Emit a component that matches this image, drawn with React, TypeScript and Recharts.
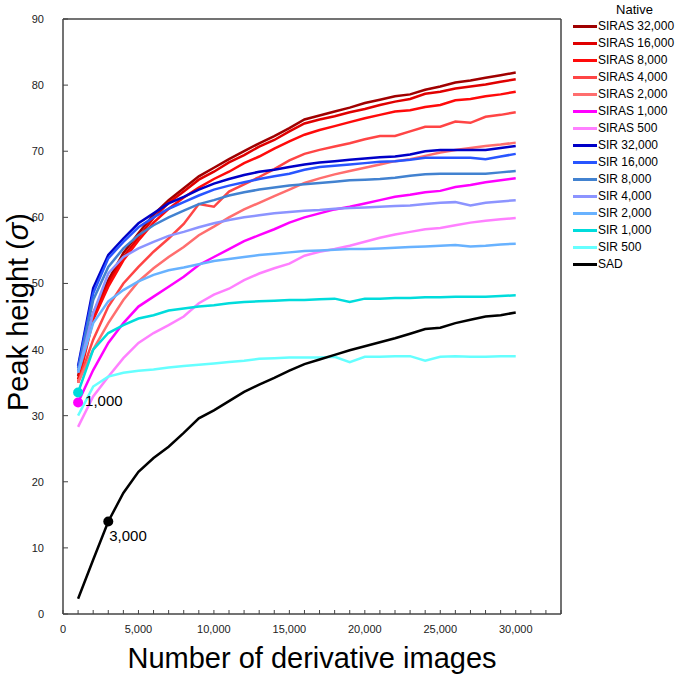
import { LineChart, Line, XAxis, YAxis, ReferenceLine } from "recharts";

const FONT = "Arial, 'Liberation Sans', sans-serif";
const AXIS = "#444";

const X = [
  1000, 2000, 3000, 4000, 5000, 6000, 7000, 8000, 9000, 10000,
  11000, 12000, 13000, 14000, 15000, 16000, 17000, 18000, 19000, 20000,
  21000, 22000, 23000, 24000, 25000, 26000, 27000, 28000, 29000, 30000,
];

const SIRAS_32000 = [36, 45.5, 50.5, 54.6, 57.6, 60.4, 62.6, 64.4, 66.2, 67.5, 68.8, 70, 71.2, 72.3, 73.5, 74.8, 75.4, 76, 76.6, 77.3, 77.8, 78.3, 78.6, 79.3, 79.8, 80.4, 80.7, 81.1, 81.5, 81.9];
const SIRAS_16000 = [35.5, 45, 50, 54, 57, 59.9, 62.2, 63.9, 65.7, 66.9, 68.3, 69.4, 70.7, 71.7, 73, 74.2, 74.8, 75.3, 75.9, 76.4, 77, 77.5, 77.9, 78.7, 79, 79.5, 79.8, 80.1, 80.5, 80.9];
const SIRAS_8000 = [35, 44.5, 49.5, 53.5, 56.5, 59.2, 61.3, 63, 64.5, 65.8, 66.9, 68.2, 69.2, 70.4, 71.5, 72.5, 73.2, 73.8, 74.4, 75, 75.5, 76, 76.2, 76.7, 77, 77.7, 77.9, 78.3, 78.6, 79];
const SIRAS_4000 = [35, 41.5, 46.5, 50, 52.5, 54.8, 56.8, 59, 62, 61.6, 63.9, 65, 66.1, 67.3, 68.6, 69.6, 70.2, 70.7, 71.2, 71.8, 72.3, 72.3, 73, 73.7, 73.7, 74.5, 74.3, 75.2, 75.5, 75.9];
const SIRAS_2000 = [35, 40, 44, 47.5, 50.3, 52.3, 54, 55.5, 57.3, 58.6, 60, 61.2, 62.2, 63.2, 64.2, 65.2, 65.9, 66.5, 67, 67.5, 68, 68.5, 68.8, 69.3, 69.8, 70.2, 70.5, 70.8, 71, 71.3];
const SIRAS_1000 = [32, 36.9, 41, 44, 46.5, 48, 49.5, 51, 52.8, 54, 55.2, 56.4, 57.3, 58.2, 59.2, 60, 60.6, 61.2, 61.6, 62.1, 62.6, 63.1, 63.4, 63.8, 64, 64.6, 64.9, 65.3, 65.6, 65.9];
const SIRAS_500 = [28.3, 32.9, 35.9, 38.7, 41, 42.5, 43.7, 45, 47, 48.3, 49.2, 50.5, 51.5, 52.3, 53, 54.2, 54.8, 55.2, 55.7, 56.3, 56.9, 57.4, 57.8, 58.2, 58.4, 58.8, 59.2, 59.5, 59.7, 59.9];
const SIR_32000 = [37.5, 49.3, 54.3, 56.8, 59.1, 60.6, 62.1, 63.1, 64.2, 65.1, 65.8, 66.4, 66.9, 67.2, 67.6, 68, 68.3, 68.5, 68.7, 68.9, 69.1, 69.2, 69.5, 70, 70.2, 70.2, 70.2, 70.2, 70.5, 70.8];
const SIR_16000 = [37.2, 48.5, 53.8, 56.3, 58.5, 60, 61.3, 62.3, 63.3, 64.2, 64.8, 65.3, 65.8, 66.2, 66.6, 67.2, 67.6, 67.8, 68, 68.2, 68.4, 68.5, 68.7, 69, 69, 69, 69, 68.8, 69.2, 69.6];
const SIR_8000 = [36.8, 47.5, 52.5, 55.3, 57.3, 58.8, 60, 61, 62, 62.6, 63.3, 63.8, 64.2, 64.5, 64.8, 65, 65.2, 65.4, 65.6, 65.7, 65.8, 66, 66.3, 66.5, 66.6, 66.6, 66.6, 66.6, 66.8, 67];
const SIR_4000 = [36.5, 45.5, 51.5, 54, 55.3, 56.3, 57.2, 57.8, 58.5, 59.1, 59.6, 60, 60.3, 60.6, 60.8, 61, 61.1, 61.3, 61.4, 61.5, 61.6, 61.7, 61.8, 62, 62.2, 62.3, 61.8, 62.2, 62.4, 62.6];
const SIR_2000 = [36.5, 44, 47.3, 49, 50.3, 51.3, 52, 52.4, 52.9, 53.4, 53.7, 54, 54.3, 54.5, 54.7, 54.9, 55, 55.1, 55.2, 55.2, 55.3, 55.4, 55.5, 55.6, 55.7, 55.8, 55.6, 55.7, 55.9, 56];
const SIR_1000 = [33.5, 40, 42.5, 43.7, 44.7, 45.2, 45.9, 46.2, 46.5, 46.7, 47, 47.2, 47.3, 47.4, 47.5, 47.5, 47.6, 47.7, 47.2, 47.7, 47.7, 47.8, 47.8, 47.9, 47.9, 48, 48, 48, 48.1, 48.2];
const SIR_500 = [30, 34.4, 35.9, 36.5, 36.8, 37, 37.3, 37.5, 37.7, 37.9, 38.1, 38.3, 38.6, 38.7, 38.8, 38.8, 38.8, 38.9, 38.1, 38.9, 38.9, 39, 39, 38.3, 38.9, 39, 38.9, 38.9, 39, 39];
const SAD = [2.3, 8.2, 14, 18.3, 21.5, 23.6, 25.3, 27.4, 29.6, 30.8, 32.2, 33.6, 34.7, 35.7, 36.8, 37.8, 38.5, 39.2, 39.9, 40.5, 41.1, 41.7, 42.4, 43.1, 43.3, 44, 44.5, 45, 45.2, 45.6];

const X_TICK_LABELS = ["0", "5,000", "10,000", "15,000", "20,000", "25,000", "30,000"];
const Y_TICKS = [0, 10, 20, 30, 40, 50, 60, 70, 80, 90];

// name, values, colour, marked point index, marker label
const SERIES: [string, number[], string, number, string][] = [
  ["SIRAS 32,000", SIRAS_32000, "#a00000", -1, ""],
  ["SIRAS 16,000", SIRAS_16000, "#e00000", -1, ""],
  ["SIRAS 8,000", SIRAS_8000, "#ff0a0a", -1, ""],
  ["SIRAS 4,000", SIRAS_4000, "#ff4545", -1, ""],
  ["SIRAS 2,000", SIRAS_2000, "#ff6e6e", -1, ""],
  ["SIRAS 1,000", SIRAS_1000, "#ff00ff", 0, "1,000"],
  ["SIRAS 500", SIRAS_500, "#ff80ff", -1, ""],
  ["SIR 32,000", SIR_32000, "#0000c8", -1, ""],
  ["SIR 16,000", SIR_16000, "#2855ff", -1, ""],
  ["SIR 8,000", SIR_8000, "#4282d0", -1, ""],
  ["SIR 4,000", SIR_4000, "#8c94ff", -1, ""],
  ["SIR 2,000", SIR_2000, "#68b2ff", -1, ""],
  ["SIR 1,000", SIR_1000, "#00dcdc", 0, ""],
  ["SIR 500", SIR_500, "#66ffff", -1, ""],
  ["SAD", SAD, "#000000", 2, "3,000"],
];

const data = X.map((x, i) => {
  const row: Record<string, number> = { x };
  SERIES.forEach(([name, vals]) => (row[name] = vals[i]));
  return row;
});

const xTicks = Array.from({ length: 34 }, (_, i) => i * 1000);

function XTick(props: any) {
  const { x, y, payload } = props;
  const v = payload.value;
  const label = v % 5000 === 0 ? X_TICK_LABELS[v / 5000] : null;
  return (
    <g>
      <line x1={x} x2={x} y1={y - 4} y2={y} stroke={AXIS} strokeWidth={1} />
      {label && (
        <text x={x} y={y + 19} textAnchor="middle" fontSize={11} fontFamily={FONT} fill="#222">
          {label}
        </text>
      )}
    </g>
  );
}

function YTick(props: any) {
  const { x, y, payload } = props;
  return (
    <g>
      <line x1={x} x2={x + 5} y1={y} y2={y} stroke={AXIS} strokeWidth={1} />
      <text x={x - 19} y={y + 4} textAnchor="end" fontSize={11} fontFamily={FONT} fill="#222">
        {payload.value}
      </text>
    </g>
  );
}

function makeDot(color: string, mark: number, label: string) {
  return (p: any) => {
    if (p.index !== mark) return <g key={`d${p.index}`} />;
    return (
      <g key={`d${p.index}`}>
        <circle cx={p.cx} cy={p.cy} r={5} fill={color} stroke="none" />
        {label === "1,000" && (
          <text x={p.cx + 7} y={p.cy + 4} fontSize={15} fontFamily={FONT} fill="#000">
            {label}
          </text>
        )}
        {label === "3,000" && (
          <text x={p.cx + 1} y={p.cy + 20} fontSize={15} fontFamily={FONT} fill="#000">
            {label}
          </text>
        )}
      </g>
    );
  };
}

function LegendBox() {
  return (
    <div style={{ position: "absolute", top: 0.5, left: 566, width: 109, fontFamily: FONT }}>
      <div style={{ height: 17, lineHeight: "17px", fontSize: 13, textAlign: "center", paddingLeft: 28, color: "#000" }}>
        Native
      </div>
      {SERIES.map(([name, , color]) => (
        <div key={name} style={{ height: 17, display: "flex", alignItems: "center" }}>
          <div style={{ width: 24, height: 3, background: color, marginLeft: 7, marginRight: 1 }} />
          <span style={{ fontSize: 12, color: "#000", whiteSpace: "nowrap" }}>{name}</span>
        </div>
      ))}
    </div>
  );
}

export default function App() {
  return (
    <div style={{ position: "absolute", left: 0, top: 0, width: 675, height: 681, background: "#fff" }}>
      <LineChart width={675} height={681} data={data} margin={{ top: 19, right: 114, bottom: 0, left: 0 }}>
        <XAxis
          dataKey="x"
          type="number"
          domain={[0, 33000]}
          ticks={xTicks}
          interval={0}
          height={67}
          tickSize={0}
          tickMargin={0}
          tickLine={false}
          tick={<XTick />}
          stroke={AXIS}
          strokeWidth={1.5}
        />
        <YAxis
          type="number"
          domain={[0, 90]}
          ticks={Y_TICKS}
          interval={0}
          width={63}
          tickSize={0}
          tickMargin={0}
          tickLine={false}
          tick={<YTick />}
          stroke={AXIS}
          strokeWidth={1.5}
        />
        <ReferenceLine y={90} stroke={AXIS} strokeWidth={1.5} />
        <ReferenceLine x={33000} stroke={AXIS} strokeWidth={1.5} />
        {SERIES.map(([name, , color, mark, label]) => (
          <Line
            key={name}
            dataKey={name}
            type="linear"
            stroke={color}
            strokeWidth={2.5}
            dot={makeDot(color, mark, label)}
            activeDot={false}
            isAnimationActive={false}
          />
        ))}
      </LineChart>
      <LegendBox />
      <div
        style={{
          position: "absolute",
          left: 0,
          width: 624,
          top: 641,
          textAlign: "center",
          fontFamily: FONT,
          fontSize: 29,
          lineHeight: "34px",
          color: "#000",
        }}
      >
        Number of derivative images
      </div>
      <div
        style={{
          position: "absolute",
          left: 18,
          top: 312,
          transform: "translate(-50%, -50%) rotate(-90deg)",
          fontFamily: FONT,
          fontSize: 29,
          lineHeight: "34px",
          whiteSpace: "nowrap",
          color: "#000",
        }}
      >
        Peak height (<i>σ</i>)
      </div>
    </div>
  );
}
